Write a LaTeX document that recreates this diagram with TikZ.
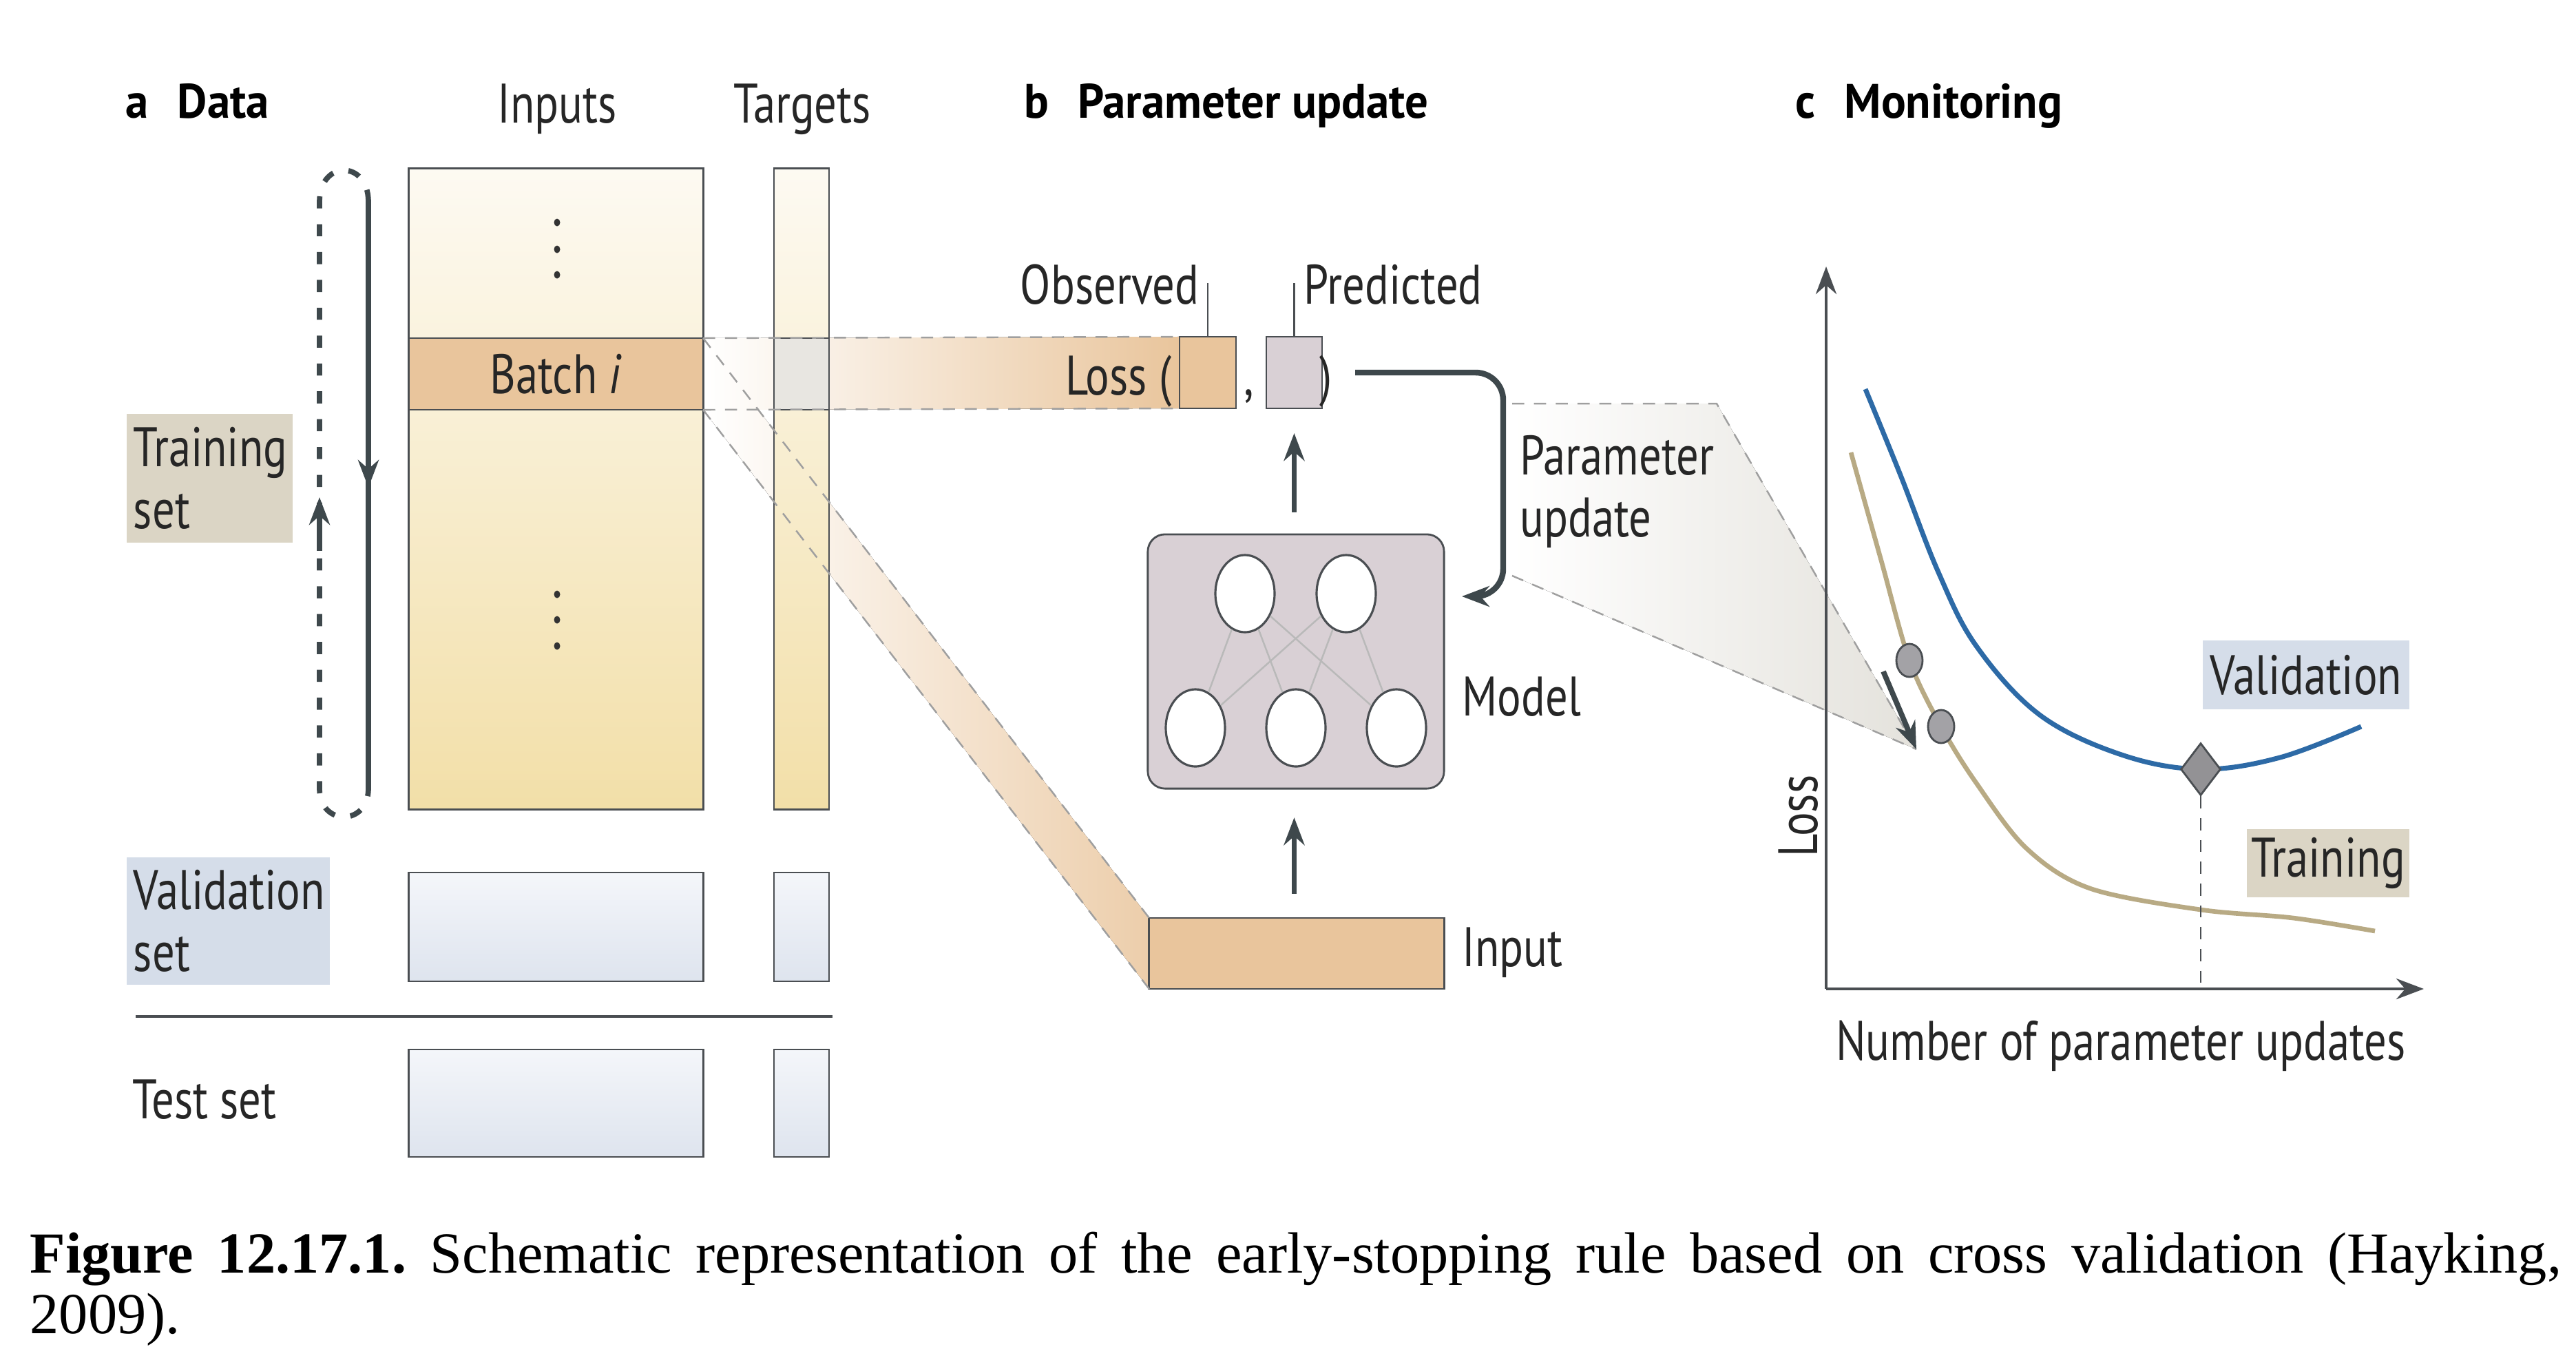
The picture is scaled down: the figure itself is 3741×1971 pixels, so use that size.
\documentclass[tikz,border=0pt]{standalone}
\usepackage{fontspec}
\usepackage{tikz}
\usetikzlibrary{arrows.meta,shapes.geometric,positioning}

\newfontfamily\figfont[FakeStretch=0.80]{PT Sans}
\newfontfamily\headfont[FakeStretch=0.95]{PT Sans}
\newfontfamily\capfont{Liberation Serif}

\definecolor{peach}{HTML}{E9C59C}
\definecolor{mauve}{HTML}{D9D0D5}
\definecolor{tanlab}{HTML}{DBD5C5}
\definecolor{bluelab}{HTML}{D5DDE9}
\definecolor{creamtop}{HTML}{FDFAF2}
\definecolor{creambot}{HTML}{F2DFA8}
\definecolor{icetop}{HTML}{F4F6FA}
\definecolor{icebot}{HTML}{DEE4EE}
\definecolor{boxline}{HTML}{4A4E52}
\definecolor{darkline}{HTML}{3E484C}
\definecolor{valblue}{HTML}{2D6AA6}
\definecolor{traintan}{HTML}{B8AA84}
\definecolor{dotgrey}{HTML}{A3A2A6}
\definecolor{bandgrey}{HTML}{E4E2DC}
\definecolor{cellgrey}{HTML}{E8E6E1}

\tikzset{
  txt/.style={font=\figfont\fontsize{23}{25.5}\selectfont, inner sep=0pt, text=black!85},
  head/.style={font=\headfont\fontsize{20}{24}\selectfont, inner sep=0pt},
  box/.style={draw=boxline, line width=0.8pt, inner sep=0pt, outer sep=0pt},
  column/.style={box, top color=creamtop, bottom color=creambot, minimum height=9.30cm},
  icebox/.style={box, top color=icetop, bottom color=icebot},
  tag/.style={txt, minimum height=1.0cm, align=left},
  guide/.style={draw=gray!75, dash pattern=on 5pt off 4pt, line width=0.7pt},
  heavy/.style={draw=darkline, line width=2.2pt, -{Stealth[length=0.40cm, width=0.30cm]}},
  loopline/.style={draw=darkline, line width=2.2pt},
  neuron/.style={ellipse, draw=boxline, fill=white, line width=0.9pt, minimum width=0.86cm, minimum height=1.12cm, inner sep=0pt},
  synapse/.style={draw=gray!55, line width=0.7pt},
  dotmark/.style={ellipse, draw=boxline, fill=dotgrey, line width=0.8pt, minimum width=0.38cm, minimum height=0.48cm, inner sep=0pt},
  axis/.style={draw=boxline, line width=1.4pt, -{Stealth[length=0.40cm, width=0.30cm]}},
  capline/.style={anchor=base west, inner sep=0pt, font=\capfont\fontsize{24}{28}\selectfont},
}

\begin{document}
\begin{tikzpicture}[x=0.01cm, y=-0.01cm]
\useasboundingbox (0,0) rectangle (3741,1971);

% headers
\node [head, anchor=base west] (hda) at (182,171) {\textbf{a}\hspace{0.42cm}\textbf{Data}};
\node [head, anchor=base west] (hdb) at (1487,171) {\textbf{b}\hspace{0.42cm}\textbf{Parameter update}};
\node [head, anchor=base west] (hdc) at (2607,171) {\textbf{c}\hspace{0.42cm}\textbf{Monitoring}};
\node [txt, anchor=base] (inhead) at (809,178) {Inputs};
\node [txt, anchor=base] (tghead) at (1165,178) {Targets};

% panel a: data columns (shapes only, bands need their anchors)
\node [column, minimum width=4.27cm] (inputs) at (807.5,710) {};
\node [column, minimum width=0.80cm] (targets) at (1164,710) {};
\node [box, fill=peach, minimum width=4.27cm, minimum height=1.04cm] (batch) at (807.5,543) {};

% panel b boxes
\node [box, fill=peach, minimum width=0.82cm, minimum height=1.04cm] (obs) at (1754,541) {};
\node [box, fill=mauve, minimum width=0.81cm, minimum height=1.04cm] (pred) at (1879.5,541) {};
\node [box, fill=mauve, rounded corners=0.25cm, minimum width=4.30cm, minimum height=3.69cm] (model) at (1882,960.5) {};
\node [box, fill=peach, minimum width=4.28cm, minimum height=1.03cm] (inbox) at (1883,1384.5) {};

% shaded bands behind the boxes
\fill [left color=white, right color=peach!85] (batch.north east) -- (inbox.north west) -- (inbox.south west) -- (batch.south east) -- cycle;
\fill [left color=white, right color=peach] (batch.north east) -- (obs.north west) -- (obs.south west) -- (batch.south east) -- cycle;

% redraw boxes over bands
\node [column, minimum width=0.80cm] at (targets) {};
\node [box, fill=cellgrey, minimum width=0.80cm, minimum height=1.04cm] (tbatch) at (1164,543) {};
\node [box, fill=peach, minimum width=4.27cm, minimum height=1.04cm, txt] at (batch) {Batch \textit{i}};
\node [box, fill=peach, minimum width=0.82cm, minimum height=1.04cm] at (obs) {};
\node [box, fill=peach, minimum width=4.28cm, minimum height=1.03cm] at (inbox) {};

\draw [guide] (batch.north east) -- (obs.north west);
\draw [guide] (batch.south east) -- (obs.south west);
\draw [guide] (batch.north east) -- (inbox.north west);
\draw [guide] (batch.south east) -- (inbox.south west);

% dots in the inputs column
\foreach \y in {323,362,399,863,900,938}
  \fill [black!80] (809,\y) ellipse (0.045cm and 0.055cm);

\node [icebox, minimum width=4.27cm, minimum height=1.58cm] (valin) at (807.5,1346) {};
\node [icebox, minimum width=0.80cm, minimum height=1.58cm] (valtg) at (1164,1346) {};
\node [icebox, minimum width=4.27cm, minimum height=1.56cm] (testin) at (807.5,1602) {};
\node [icebox, minimum width=0.80cm, minimum height=1.56cm] (testtg) at (1164,1602) {};

\coordinate (sepL) at (197,1476);
\coordinate (sepR) at (1209,1476);
\draw [draw=boxline, line width=1.2pt] (sepL) -- (sepR);

\node [tag, fill=tanlab, minimum width=2.41cm, minimum height=1.87cm, text width=2.21cm] (trainlab) at (304.5,694.5) {Training\\set};
\node [tag, fill=bluelab, minimum width=2.95cm, minimum height=1.85cm, text width=2.75cm] (vallab) at (331.5,1337.5) {Validation\\set};
\node [txt, anchor=west] (testlab) at (192,1597) {Test set};

% loop of passes over the batches
\coordinate (loopR1) at (535,293);
\coordinate (loopR2) at (535,1145);
\coordinate (loopL1) at (464,293);
\coordinate (loopL2) at (464,1145);
\draw [heavy] (loopR1) -- (535,708);
\draw [loopline] (535,690) -- (loopR2);
\draw [loopline, dash pattern=on 5pt off 6.5pt]
  (loopR1) .. controls (535,232) and (464,232) .. (loopL1) -- (loopL2)
  .. controls (464,1200) and (535,1200) .. (loopR2);
\draw [heavy] (464,800) -- (464,722);

% panel b: loss and model
\node [txt, anchor=base east] (lossword) at (1702,573) {Loss (};
\node [txt, anchor=base] (comma) at (1814,573) {,};
\node [txt, anchor=base] (rparen) at (1926,573) {)};
\node [txt, anchor=base east] (obslab) at (1742,441) {Observed};
\node [txt, anchor=base west] (predlab) at (1893,441) {Predicted};
\draw [draw=boxline, line width=0.8pt] (obs.north) -- ++(0,-78);
\draw [draw=boxline, line width=0.8pt] (pred.north) -- ++(0,-78);

\node [neuron] (h1) at (1808,862) {};
\node [neuron] (h2) at (1955,862) {};
\node [neuron] (x1) at (1736,1057) {};
\node [neuron] (x2) at (1882,1057) {};
\node [neuron] (x3) at (2028,1057) {};
\foreach \a in {h1,h2}
  \foreach \b in {x1,x2,x3}
    \draw [synapse] (\a) -- (\b);

\node [txt, anchor=west] (modellab) at (2123,1012) {Model};
\node [txt, anchor=west] (inlab) at (2123,1383) {Input};

\draw [heavy, shorten <=0.32cm, shorten >=0.36cm] (model.north -| pred) -- (pred.south);
\draw [heavy, shorten <=0.35cm, shorten >=0.42cm] (inbox.north -| pred) -- (model.south -| pred);

% band towards the monitoring plot
\coordinate (mon1) at (2196,586);
\coordinate (mon2) at (2493,586);
\coordinate (montip) at (2783,1088);
\coordinate (mon3) at (2196,836);
\fill [left color=white, right color=bandgrey] (mon1) -- (mon2) -- (montip) -- (mon3) -- cycle;
\draw [guide] (mon1) -- (mon2) -- (montip);
\draw [guide] (mon3) -- (montip);

% parameter update arrow
\coordinate (pustart) at (1968,541);
\coordinate (puturn) at (2183,700);
\coordinate (puend) at (2123,866);
\draw [heavy, line width=2.4pt, rounded corners=0.4cm] (pustart) -- (pustart -| puturn) -- (puturn |- puend) -- (puend);
\node [txt, anchor=west, align=left] (pulab) at (2207,714) {Parameter\\update};

% panel c: monitoring
\coordinate (origin) at (2652,1436);
\coordinate (ytop) at (2652,387);
\coordinate (xend) at (3520,1436);
\draw [axis] (origin) -- (ytop);
\draw [axis] (origin) -- (xend);
\node [txt, rotate=90] (losslab) at (2612,1185) {Loss};
\node [txt, anchor=base] (xlab) at (3080,1539) {Number of parameter updates};

\draw [valblue, line width=2pt] plot [smooth, tension=0.6] coordinates {
  (2709,565) (2760,690) (2815,831) (2870,938) (2962,1038) (3081,1096)
  (3196,1117) (3311,1100) (3429,1055)};
\draw [traintan, line width=1.9pt] plot [smooth, tension=0.55] coordinates {
  (2688,657) (2732,814) (2773,959) (2819,1055) (2870,1137) (2943,1232)
  (3035,1290) (3196,1321) (3330,1333) (3449,1352)};

\node [dotmark] (d1) at (2773,959) {};
\node [dotmark] (d2) at (2819,1055) {};
\node [diamond, draw=boxline, fill=dotgrey!90!black, line width=0.8pt, minimum width=0.58cm, minimum height=0.76cm, inner sep=0pt] (stop) at (3196,1117) {};
\draw [draw=boxline, line width=0.8pt, dash pattern=on 5pt off 4pt] (stop.south) -- (stop.south |- origin);

\coordinate (steptail) at (2735,975);
\draw [heavy] (steptail) -- (montip);

\node [tag, fill=bluelab, minimum width=3.0cm, align=center] (valtag) at (3349,980) {Validation};
\node [tag, fill=tanlab, minimum width=2.36cm, minimum height=0.99cm, align=center] (traintag) at (3381,1253.5) {Training};

% caption
\frenchspacing
\node [capline] (cap1) at (43,1848)
  {\makebox[36.74cm][s]{\textbf{Figure 12.17.1.} Schematic representation of the early-stopping rule based on cross validation (Hayking,}};
\node [capline] (cap2) at (43,1936) {2009).};

\end{tikzpicture}
\end{document}
